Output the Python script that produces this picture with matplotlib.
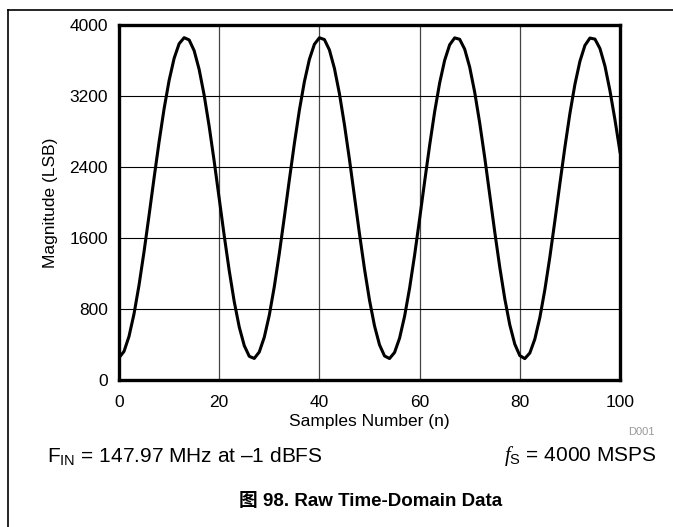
import matplotlib
matplotlib.use("Agg")
import matplotlib.pyplot as plt
from matplotlib.lines import Line2D

plt.rcParams['font.family'] = ['Liberation Sans', 'Noto Sans CJK SC', 'DejaVu Sans']
plt.rcParams['mathtext.fontset'] = 'custom'
plt.rcParams['mathtext.rm'] = 'Liberation Sans'
plt.rcParams['mathtext.it'] = 'Liberation Serif:italic'

# raw ADC codes, sample 0..100
samples = list(range(101))
codes = [
    250, 322, 492, 746, 1070, 1447, 1856, 2276, 2683, 3056,
    3375, 3624, 3789, 3857, 3832, 3711, 3499, 3209, 2857, 2464,
    2045, 1627, 1233, 883, 597, 388, 267, 243, 316, 482,
    731, 1052, 1426, 1835, 2255, 2663, 3039, 3360, 3613, 3783,
    3856, 3836, 3719, 3511, 3226, 2876, 2485, 2066, 1648, 1252,
    899, 610, 396, 271, 242, 310, 471, 717, 1034, 1406,
    1814, 2234, 2643, 3021, 3346, 3602, 3777, 3855, 3839, 3728,
    3525, 3242, 2895, 2506, 2087, 1668, 1271, 916, 622, 404,
    275, 241, 304, 461, 703, 1017, 1386, 1793, 2212, 2623,
    3003, 3331, 3591, 3770, 3853, 3841, 3735, 3537, 3258, 2930,
    2570,
]
x_ticks = [0, 20, 40, 60, 80, 100]
y_ticks = [0, 800, 1600, 2400, 3200, 4000]

fig = plt.figure(figsize=(6.73, 5.27), dpi=100)
ax = fig.add_axes([119 / 673, 1 - 380 / 527, 501 / 673, 355 / 527])

ax.plot(samples, codes, color='black', linewidth=2.2, solid_joinstyle='round')

ax.set_xlim(0, 100)
ax.set_ylim(0, 4000)
ax.set_xticks(x_ticks)
ax.set_yticks(y_ticks)
ax.yaxis.grid(True, color='black', linewidth=0.8)
ax.xaxis.grid(True, color='#444444', linewidth=0.9)
ax.set_axisbelow(True)
ax.tick_params(length=0, labelsize=12.5)
ax.tick_params(axis='x', pad=11)
ax.tick_params(axis='y', pad=8)
for s in ax.spines.values():
    s.set_linewidth(2.4)

ax.set_xlabel("Samples Number (n)", fontsize=12.5, labelpad=3)
ax.set_ylabel("Magnitude (LSB)", fontsize=12.5, labelpad=8)

fig.text(655 / 673, 1 - 432 / 527, "D001", fontsize=8, color='#999999',
         ha='right', va='center')
fig.text(47 / 673, 1 - 456 / 527,
         r"F$_{\mathregular{IN}}$ = 147.97 MHz at –1 dBFS",
         fontsize=15, ha='left', va='center')
fig.text(656 / 673, 1 - 456 / 527,
         r"$\mathit{f}_{\mathregular{S}}$ = 4000 MSPS",
         fontsize=15, ha='right', va='center')
fig.text(371 / 673, 1 - 501 / 527, "图 98. Raw Time-Domain Data",
         fontsize=13.5, fontweight='bold', ha='center', va='center')

# page frame (top and left edges only)
fig.add_artist(Line2D([8 / 673, 8 / 673], [0, 1 - 9.5 / 527],
                      transform=fig.transFigure, color='black', linewidth=1.2))
fig.add_artist(Line2D([8 / 673, 1], [1 - 9.5 / 527, 1 - 9.5 / 527],
                      transform=fig.transFigure, color='black', linewidth=1.2))

fig.savefig("out.png", dpi=100)
